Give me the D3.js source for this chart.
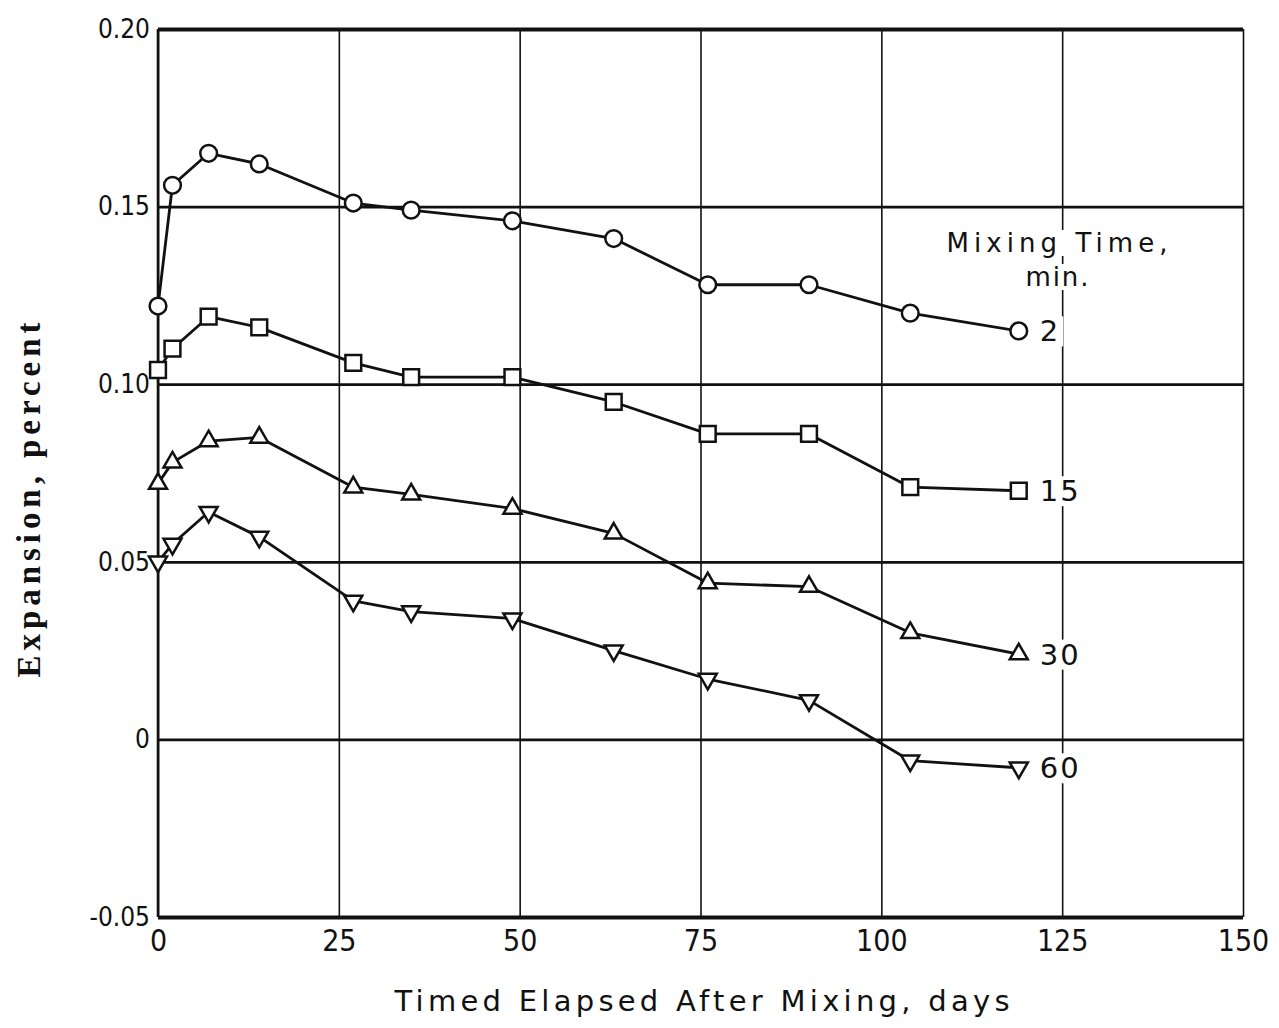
<!DOCTYPE html>
<html><head>
<meta charset="utf-8">
<title>Expansion vs time elapsed after mixing</title>
<script src="https://d3js.org/d3.v7.min.js"></script>
<style>
  body { margin: 0; background: #fff; }
  svg { display: block; }
  .tick text { font-family: "DejaVu Sans Condensed", "DejaVu Sans", sans-serif; font-stretch: condensed; fill: #111; }
  .x-axis .tick text { font-size: 30px; }
  .y-axis .tick text { font-size: 26px; }
  .label { font-family: "DejaVu Sans", sans-serif; fill: #111; }
</style>
</head>
<body>
<svg id="chart" width="1279" height="1028"></svg>

<script>
// days after mixing (same for all four series)
const days = [0, 2, 7, 14, 27, 35, 49, 63, 76, 90, 104, 119];

// expansion, percent
const mix2  = [0.122, 0.156, 0.165, 0.162, 0.151, 0.149, 0.146, 0.141, 0.128, 0.128, 0.120, 0.115];
const mix15 = [0.104, 0.110, 0.119, 0.116, 0.106, 0.102, 0.102, 0.095, 0.086, 0.086, 0.071, 0.070];
const mix30 = [0.072, 0.078, 0.084, 0.085, 0.071, 0.069, 0.065, 0.058, 0.044, 0.043, 0.030, 0.024];
const mix60 = [0.050, 0.055, 0.064, 0.057, 0.039, 0.036, 0.034, 0.025, 0.017, 0.011, -0.006, -0.008];

const seriesNames = ["2", "15", "30", "60"];
const seriesValues = [mix2, mix15, mix30, mix60];

const xTicks = [0, 25, 50, 75, 100, 125, 150];
const yTicks = [-0.05, 0, 0.05, 0.10, 0.15, 0.20];
const yTickLabels = ["-0.05", "0", "0.05", "0.10", "0.15", "0.20"];

const svg = d3.select("#chart");
const plotLeft = 158, plotRight = 1243, plotTop = 29, plotBottom = 917;

const x = d3.scaleLinear().domain([0, 150]).range([plotLeft, plotRight]);
const y = d3.scaleLinear().domain([-0.05, 0.20]).range([plotBottom, plotTop]);

// vertical grid + x labels
const xAxis = svg.append("g").attr("class", "x-axis")
  .attr("transform", "translate(0," + plotBottom + ")")
  .call(d3.axisBottom(x).tickValues(xTicks).tickSize(-(plotBottom - plotTop)).tickPadding(10));
xAxis.select(".domain").remove();
xAxis.selectAll(".tick line").attr("stroke", "#111").attr("stroke-width", 1.6);
xAxis.selectAll(".tick text").attr("dy", "0.8em");

// white patches that break the grid behind the legend text
const bgLayer = svg.append("g");

// horizontal grid + y labels
const yAxis = svg.append("g").attr("class", "y-axis")
  .attr("transform", "translate(" + plotLeft + ",0)")
  .call(d3.axisLeft(y).tickValues(yTicks).tickSize(-(plotRight - plotLeft)).tickPadding(8)
          .tickFormat((d, i) => yTickLabels[i]));
yAxis.select(".domain").remove();
yAxis.selectAll(".tick line").attr("stroke", "#111")
  .attr("stroke-width", d => (d === 0.20 || d === -0.05) ? 4 : 2.8);

// left edge of the frame
svg.append("line")
  .attr("x1", plotLeft).attr("x2", plotLeft).attr("y1", plotTop).attr("y2", plotBottom)
  .attr("stroke", "#111").attr("stroke-width", 2.6);

const labelLayer = svg.append("g");

// series lines
const line = d3.line().x(d => x(d[0])).y(d => y(d[1]));
const symbols = [
  d3.symbol().type(d3.symbolCircle).size(220),
  d3.symbol().type(d3.symbolSquare).size(250),
  d3.symbol().type(d3.symbolTriangle).size(140),
  d3.symbol().type(d3.symbolTriangle).size(140)
];

function addBg(t, pad) {
  const b = t.node().getBBox();
  bgLayer.append("rect")
    .attr("x", b.x - pad).attr("y", b.y + 2)
    .attr("width", b.width + pad * 2).attr("height", b.height - 4)
    .attr("fill", "#fff");
}

seriesValues.forEach((vals, s) => {
  const pts = days.map((d, i) => [d, vals[i]]);
  svg.append("path")
    .datum(pts)
    .attr("d", line)
    .attr("fill", "none")
    .attr("stroke", "#111")
    .attr("stroke-width", 2.8)
    .attr("stroke-linejoin", "round");

  svg.append("g").selectAll("path").data(pts)
    .join("path")
    .attr("d", symbols[s])
    .attr("transform", d => "translate(" + x(d[0]) + "," + y(d[1]) + ")" + (s === 3 ? " rotate(180)" : ""))
    .attr("fill", "#fff")
    .attr("stroke", "#111")
    .attr("stroke-width", 2.5);

  // series label at the end of the line
  const last = pts[pts.length - 1];
  const t = labelLayer.append("text").attr("class", "label")
    .attr("x", x(last[0]) + 21).attr("y", y(last[1]))
    .attr("dy", "0.36em")
    .attr("font-size", 29)
    .attr("letter-spacing", 2)
    .text(seriesNames[s]);
  addBg(t, 3);
});

// legend title
const legendTitle = ["Mixing Time,", "min."];
const titleWidths = [221, 63];
legendTitle.forEach((txt, i) => {
  const t = labelLayer.append("text").attr("class", "label")
    .attr("x", 1057).attr("y", 252 + i * 34)
    .attr("text-anchor", "middle")
    .attr("font-size", 26)
    .attr("textLength", titleWidths[i])
    .attr("lengthAdjust", "spacing")
    .text(txt);
  addBg(t, 3);
});

// axis titles
svg.append("text").attr("class", "label")
  .attr("x", 702).attr("y", 1011)
  .attr("text-anchor", "middle")
  .attr("font-size", 29)
  .attr("textLength", 615)
  .attr("lengthAdjust", "spacing")
  .text("Timed Elapsed After Mixing, days");

svg.append("text")
  .attr("transform", "translate(40,500) rotate(-90)")
  .attr("text-anchor", "middle")
  .attr("font-family", "Liberation Serif, serif")
  .attr("font-weight", "bold")
  .attr("font-size", 33)
  .attr("textLength", 355)
  .attr("lengthAdjust", "spacing")
  .attr("fill", "#111")
  .text("Expansion, percent");
</script>
</body>
</html>
